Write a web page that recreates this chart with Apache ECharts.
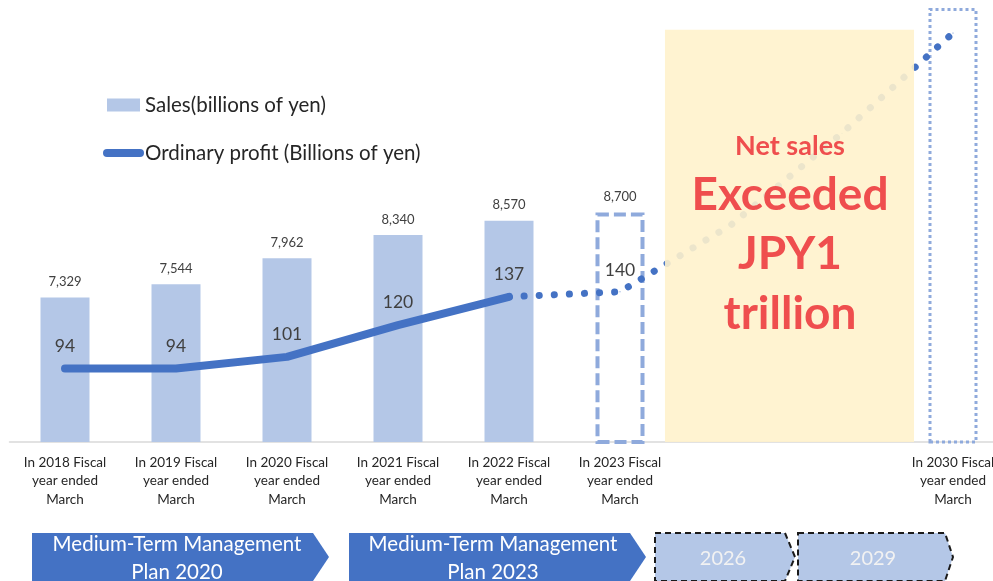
<!DOCTYPE html>
<html>
<head>
<meta charset="utf-8">
<script src="https://cdn.jsdelivr.net/npm/echarts@6/dist/echarts.min.js"></script>
<style>
html,body{margin:0;padding:0;background:#fff;}
#chart{width:993px;height:581px;}
</style>
</head>
<body>
<div id="chart"></div>
<script>
// ---- data ----
const categories = [
  'In 2018 Fiscal\nyear ended\nMarch',
  'In 2019 Fiscal\nyear ended\nMarch',
  'In 2020 Fiscal\nyear ended\nMarch',
  'In 2021 Fiscal\nyear ended\nMarch',
  'In 2022 Fiscal\nyear ended\nMarch',
  'In 2023 Fiscal\nyear ended\nMarch',
  'FY2026',
  'FY2029',
  'In 2030 Fiscal\nyear ended\nMarch'
];
const hiddenCategoryLabels = ['FY2026', 'FY2029'];
const salesValues = [7329, 7544, 7962, 8340, 8570, 8700, null, null, 12000];
const salesPlanIndex2023 = 5;
const salesPlanIndex2030 = 8;
const profitActual = [94, 94, 101, 120, 137, null, null, null, null];
const profitForecast = [null, null, null, null, 137, 140, 180, 235, 295];
const profitForecastLabelIndex = 5;
const planArrows = ['Medium-Term Management\nPlan 2020', 'Medium-Term Management\nPlan 2023', '2026', '2029'];
const targetText = ['Net sales', 'Exceeded', 'JPY1', 'trillion'];

const FONT = 'Lato, "Open Sans", sans-serif';
const BAR = '#B4C7E7';
const LINE = '#4472C4';
const FRAME = '#8FAADC';

const salesData = salesValues.map((v, i) => {
  if (v == null) return null;
  if (i === salesPlanIndex2023) {
    return { value: v, itemStyle: { color: 'rgba(0,0,0,0)', borderColor: FRAME, borderWidth: 4, borderType: [12, 5] } };
  }
  if (i === salesPlanIndex2030) {
    return { value: v, itemStyle: { color: 'rgba(0,0,0,0)', borderColor: FRAME, borderWidth: 3, borderType: [3, 3] }, label: { show: false } };
  }
  return v;
});

const forecastData = profitForecast.map((v, i) => {
  if (v == null) return null;
  if (i === profitForecastLabelIndex) return { value: v, label: { show: true } };
  return v;
});

const chart = echarts.init(document.getElementById('chart'), null, { renderer: 'canvas' });

const arrowSolid = (x0, x1, tip) => [[x0, 533], [x1, 533], [tip, 557], [x1, 581], [x0, 581]];

const option = {
  animation: false,
  backgroundColor: '#ffffff',
  textStyle: { fontFamily: FONT },
  grid: { left: 9.5, width: 999, top: 8, bottom: 139, containLabel: false, outerBoundsMode: 'none' },
  legend: {
    orient: 'vertical',
    left: 103,
    top: 94,
    padding: 0,
    itemWidth: 33,
    itemHeight: 13,
    itemGap: 26,
    selectedMode: false,
    textStyle: { fontFamily: FONT, fontSize: 20.5, color: '#262626', lineHeight: 22 },
    data: [
      { name: 'Sales(billions of yen)', icon: 'rect' },
      { name: 'Ordinary profit (Billions of yen)', itemStyle: { opacity: 0 }, lineStyle: { width: 8, cap: 'round', color: LINE } }
    ]
  },
  xAxis: [
    {
      type: 'category',
      data: categories,
      boundaryGap: true,
      axisLine: { show: true, lineStyle: { color: '#D9D9D9', width: 1.5 } },
      axisTick: { show: false },
      splitLine: { show: false },
      axisLabel: {
        interval: 0,
        margin: 11,
        fontFamily: FONT,
        fontSize: 13.5,
        lineHeight: 18.5,
        color: '#262626',
        formatter: v => hiddenCategoryLabels.includes(v) ? '' : v
      }
    },
    { type: 'value', min: -0.5, max: 8.5, show: false, gridIndex: 0 }
  ],
  yAxis: [
    { type: 'value', min: 5000, max: 12000, show: false, splitLine: { show: false } },
    { type: 'value', min: 50, max: 310, show: false, splitLine: { show: false } }
  ],
  series: [
    {
      name: 'Sales(billions of yen)',
      type: 'bar',
      data: salesData,
      barWidth: 49,
      itemStyle: { color: BAR },
      z: 2,
      label: {
        show: true,
        position: 'top',
        distance: 9,
        fontFamily: FONT,
        fontSize: 13,
        color: '#404040',
        formatter: p => p.value.toLocaleString('en-US')
      }
    },
    {
      name: 'Ordinary profit (Billions of yen)',
      type: 'line',
      yAxisIndex: 1,
      data: profitActual,
      symbol: 'circle',
      symbolSize: 1,
      showSymbol: true,
      itemStyle: { color: LINE },
      lineStyle: { color: LINE, width: 8, cap: 'round', join: 'round' },
      z: 4,
      label: {
        show: true,
        position: 'top',
        distance: 13,
        fontFamily: FONT,
        fontSize: 17.5,
        color: '#404040'
      }
    },
    {
      name: 'Ordinary profit forecast',
      type: 'line',
      yAxisIndex: 1,
      data: forecastData,
      connectNulls: true,
      symbol: 'circle',
      symbolSize: 1,
      showSymbol: true,
      itemStyle: { color: LINE },
      lineStyle: { color: LINE, width: 7, cap: 'round', type: [0.1, 15] },
      z: 3,
      label: {
        show: false,
        position: 'top',
        distance: 12,
        fontFamily: FONT,
        fontSize: 17.5,
        color: '#404040'
      }
    },
    {
      name: 'target-area',
      type: 'line',
      xAxisIndex: 1,
      yAxisIndex: 0,
      data: [],
      z: 5,
      silent: true,
      markArea: {
        silent: true,
        z: 5,
        itemStyle: { color: '#FFF2CC', opacity: 0.9 },
        data: [[{ xAxis: 5.405, yAxis: 11650 }, { xAxis: 7.649, yAxis: 5000 }]]
      }
    }
  ],
  graphic: [
    // target text
    { type: 'text', z: 100, x: 790, y: 146, style: { text: targetText[0], fill: '#EF4E4E', font: 'bold 27px ' + FONT, align: 'center', verticalAlign: 'middle' } },
    { type: 'text', z: 100, x: 790, y: 195, style: { text: targetText[1], fill: '#EF4E4E', font: 'bold 46px ' + FONT, align: 'center', verticalAlign: 'middle' } },
    { type: 'text', z: 100, x: 790, y: 254, style: { text: targetText[2], fill: '#EF4E4E', font: 'bold 46px ' + FONT, align: 'center', verticalAlign: 'middle' } },
    { type: 'text', z: 100, x: 790, y: 314, style: { text: targetText[3], fill: '#EF4E4E', font: 'bold 46px ' + FONT, align: 'center', verticalAlign: 'middle' } },
    // plan arrows
    { type: 'polygon', z: 50, shape: { points: arrowSolid(32, 313, 329) }, style: { fill: LINE } },
    { type: 'text', z: 51, x: 177, y: 558, style: { text: planArrows[0], fill: '#ffffff', font: '20.5px ' + FONT, lineHeight: 28, align: 'center', verticalAlign: 'middle' } },
    { type: 'polygon', z: 50, shape: { points: arrowSolid(349, 630, 646) }, style: { fill: LINE } },
    { type: 'text', z: 51, x: 493, y: 558, style: { text: planArrows[1], fill: '#ffffff', font: '20.5px ' + FONT, lineHeight: 28, align: 'center', verticalAlign: 'middle' } },
    { type: 'polygon', z: 50, shape: { points: arrowSolid(655, 785, 795) }, style: { fill: BAR, stroke: '#1a1a1a', lineWidth: 2, lineDash: [6, 4] } },
    { type: 'text', z: 51, x: 723, y: 559, style: { text: planArrows[2], fill: '#F2F2F2', font: '20px ' + FONT, align: 'center', verticalAlign: 'middle' } },
    { type: 'polygon', z: 50, shape: { points: arrowSolid(798, 945, 953) }, style: { fill: BAR, stroke: '#1a1a1a', lineWidth: 2, lineDash: [6, 4] } },
    { type: 'text', z: 51, x: 873, y: 559, style: { text: planArrows[3], fill: '#F2F2F2', font: '20px ' + FONT, align: 'center', verticalAlign: 'middle' } }
  ]
};

chart.setOption(option);
</script>
</body>
</html>
